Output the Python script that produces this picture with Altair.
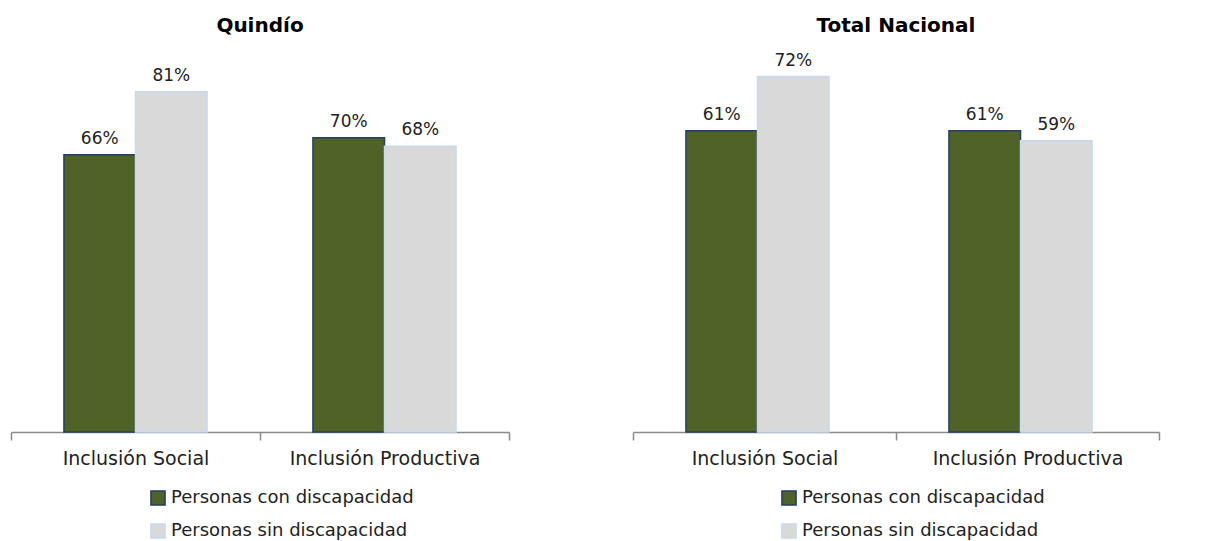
import altair as alt
import pandas as pd

categories = ["Inclusión Social", "Inclusión Productiva"]
series = ["Personas con discapacidad", "Personas sin discapacidad"]
quindio_con = [0.66, 0.70]
quindio_sin = [0.81, 0.68]
nacional_con = [0.61, 0.61]
nacional_sin = [0.72, 0.59]

FONT = "DejaVu Sans"
FILLS = ["#4F6228", "#D9D9D9"]
STROKES = ["#243F60", "#C6D9F1"]


def make_df(con, sin):
    rows = []
    for c, v in zip(categories, con):
        rows.append({"cat": c, "serie": series[0], "val": v})
    for c, v in zip(categories, sin):
        rows.append({"cat": c, "serie": series[1], "val": v})
    return pd.DataFrame(rows)


def panel(df, title, ymax, width, legend_x):
    leg = alt.Legend(
        title=None, orient="none", legendX=legend_x, legendY=452,
        direction="vertical", symbolType="square", symbolSize=200,
        symbolStrokeWidth=1.5, labelFontSize=18, labelFont=FONT,
        labelColor="#222222", rowPadding=11, labelOffset=4, labelLimit=0,
    )
    base = alt.Chart(df).encode(
        x=alt.X("cat:N", sort=categories,
                scale=alt.Scale(paddingInner=0, paddingOuter=0),
                axis=alt.Axis(title=None, labelAngle=0, tickBand="extent",
                              domainColor="#8A8A8A", tickColor="#8A8A8A",
                              domainWidth=1.5, tickWidth=1.5,
                              tickSize=8, labelFontSize=19, labelFont=FONT,
                              labelPadding=9, labelColor="#222222",
                              labelLimit=0)),
        xOffset=alt.XOffset("serie:N", sort=series,
                            scale=alt.Scale(paddingInner=0, paddingOuter=0.74)),
        y=alt.Y("val:Q", scale=alt.Scale(domain=[0, ymax]), axis=None),
    )
    bars = base.mark_bar(strokeWidth=1.5).encode(
        fill=alt.Fill("serie:N", sort=series,
                      scale=alt.Scale(domain=series, range=FILLS), legend=leg),
        stroke=alt.Stroke("serie:N", sort=series,
                          scale=alt.Scale(domain=series, range=STROKES), legend=leg),
    )
    text = base.mark_text(dy=-11, baseline="alphabetic", fontSize=17,
                          font=FONT, color="#222222").encode(
        text=alt.Text("val:Q", format=".0%")
    )
    return alt.layer(bars, text).properties(
        width=width, height=395,
        title=alt.TitleParams(title, fontSize=20, font=FONT, fontWeight="bold",
                              anchor="middle", offset=1, color="#000000"),
    )


left = panel(make_df(quindio_con, quindio_sin), "Quindío", 0.94, 498, 138)
right = panel(make_df(nacional_con, nacional_sin), "Total Nacional", 0.80, 526, 147)

chart = alt.hconcat(left, right, spacing=122).resolve_scale(
    fill="independent", stroke="independent", y="independent"
).resolve_legend(
    fill="independent", stroke="independent"
).properties(
    padding={"left": 2, "top": 8, "right": 5, "bottom": 5}
).configure_view(stroke=None)

chart.save("out.html", embed_options={"renderer": "svg", "actions": False})
